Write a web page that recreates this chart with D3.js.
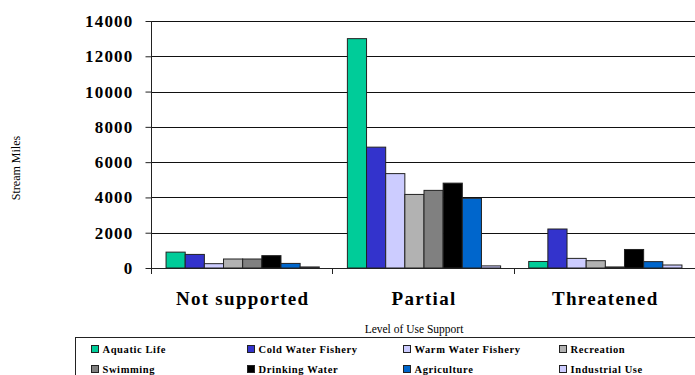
<!DOCTYPE html>
<html>
<head>
<meta charset="utf-8">
<script src="https://cdn.jsdelivr.net/npm/d3@7"></script>
<style>
  body { margin: 0; background: #fff; }
  svg { display: block; font-family: "Liberation Serif", "Times New Roman", serif; }
</style>
</head>
<body>
<script>
const categories = ['Not supported', 'Partial', 'Threatened'];
const seriesNames = ['Aquatic Life', 'Cold Water Fishery', 'Warm Water Fishery', 'Recreation',
                     'Swimming', 'Drinking Water', 'Agriculture', 'Industrial Use'];
const seriesColors = ['#00cc99', '#3333cc', '#ccccff', '#b2b2b2',
                      '#808080', '#000000', '#0066cc', '#ccccff'];
// values per series, one per category
const aquaticLife = [900, 13000, 370];
const coldWater = [770, 6850, 2210];
const warmWater = [245, 5350, 545];
const recreation = [510, 4170, 415];
const swimming = [510, 4400, 60];
const drinkingWater = [700, 4810, 1050];
const agriculture = [260, 3950, 360];
const industrialUse = [60, 120, 170];
const yTicks = [0, 2000, 4000, 6000, 8000, 10000, 12000, 14000];

const seriesValues = [aquaticLife, coldWater, warmWater, recreation,
                      swimming, drinkingWater, agriculture, industrialUse];

const W = 695, H = 375;
const plotL = 152, plotR = 696, plotT = 21, plotB = 268;

const svg = d3.select('body').append('svg').attr('width', W).attr('height', H);

const x0 = d3.scaleBand().domain(categories).range([plotL, plotR])
  .paddingInner(0.155).paddingOuter(0.0775);
const x1 = d3.scaleBand().domain(seriesNames).range([0, x0.bandwidth()]);
const y = d3.scaleLinear().domain([0, 14000]).range([plotB, plotT]);

// gridlines
svg.append('g').selectAll('line')
  .data(yTicks.filter(d => d > 0))
  .join('line')
  .attr('x1', plotL).attr('x2', W)
  .attr('y1', d => Math.round(y(d)) + 0.5).attr('y2', d => Math.round(y(d)) + 0.5)
  .attr('stroke', '#111').attr('stroke-width', 1);

// bars
const groups = svg.append('g').selectAll('g')
  .data(categories)
  .join('g')
  .attr('transform', c => `translate(${x0(c)},0)`);

groups.selectAll('rect')
  .data((c, ci) => seriesNames.map((s, si) => ({ s, si, v: seriesValues[si][ci] })))
  .join('rect')
  .attr('x', d => x1(d.s))
  .attr('y', d => y(d.v))
  .attr('width', x1.bandwidth())
  .attr('height', d => plotB - y(d.v))
  .attr('fill', d => seriesColors[d.si])
  .attr('stroke', '#222').attr('stroke-width', 1);

// y axis
const yAxis = svg.append('g')
  .attr('transform', `translate(${plotL - 0.5},0)`)
  .call(d3.axisLeft(y).tickValues(yTicks).tickSize(6).tickPadding(12).tickFormat(d3.format('d')));
yAxis.select('.domain').attr('stroke', '#222').attr('d', `M0,${plotT}V${plotB + 6}`);
yAxis.selectAll('.tick line').attr('stroke', '#222');
yAxis.selectAll('.tick text')
  .attr('font-family', '"Liberation Serif", serif')
  .attr('font-size', 17).attr('font-weight', 'bold')
  .attr('letter-spacing', 1.2).attr('fill', '#000');

// x axis
const step = x0.step();
const bounds = [plotL, ...categories.map(c => x0(c) - step * x0.paddingInner() / 2 + step)];
const xAxisG = svg.append('g');
xAxisG.append('line')
  .attr('x1', plotL).attr('x2', W)
  .attr('y1', plotB + 0.5).attr('y2', plotB + 0.5)
  .attr('stroke', '#222');
xAxisG.selectAll('.bt').data(bounds).join('line')
  .attr('class', 'bt')
  .attr('x1', d => Math.round(d) - 0.5).attr('x2', d => Math.round(d) - 0.5)
  .attr('y1', plotB).attr('y2', plotB + 6)
  .attr('stroke', '#222');
xAxisG.selectAll('text').data(categories).join('text')
  .attr('x', c => x0(c) + x0.bandwidth() / 2)
  .attr('y', 305)
  .attr('text-anchor', 'middle')
  .attr('font-size', 19).attr('font-weight', 'bold')
  .attr('letter-spacing', 1.3)
  .text(c => c);

// axis titles
svg.append('text')
  .attr('x', 414).attr('y', 333)
  .attr('text-anchor', 'middle')
  .attr('font-size', 11.5)
  .text('Level of Use Support');

svg.append('text')
  .attr('transform', 'translate(20,168) rotate(-90)')
  .attr('text-anchor', 'middle')
  .attr('font-size', 12)
  .text('Stream Miles');

// legend
const legend = svg.append('g');
legend.append('rect')
  .attr('x', 75.5).attr('y', 337.5)
  .attr('width', 640).attr('height', 60)
  .attr('fill', 'none').attr('stroke', '#222');

const items = legend.selectAll('g.item')
  .data(seriesNames)
  .join('g')
  .attr('class', 'item')
  .attr('transform', (d, i) => `translate(${91.5 + (i % 4) * 156},${345.5 + Math.floor(i / 4) * 20})`);
items.append('rect')
  .attr('width', 7).attr('height', 7)
  .attr('fill', (d, i) => seriesColors[i])
  .attr('stroke', '#222');
items.append('text')
  .attr('x', 11).attr('y', 7.5)
  .attr('font-size', 10.5).attr('font-weight', 'bold')
  .attr('letter-spacing', 0.6)
  .text(d => d);
</script>
</body>
</html>
